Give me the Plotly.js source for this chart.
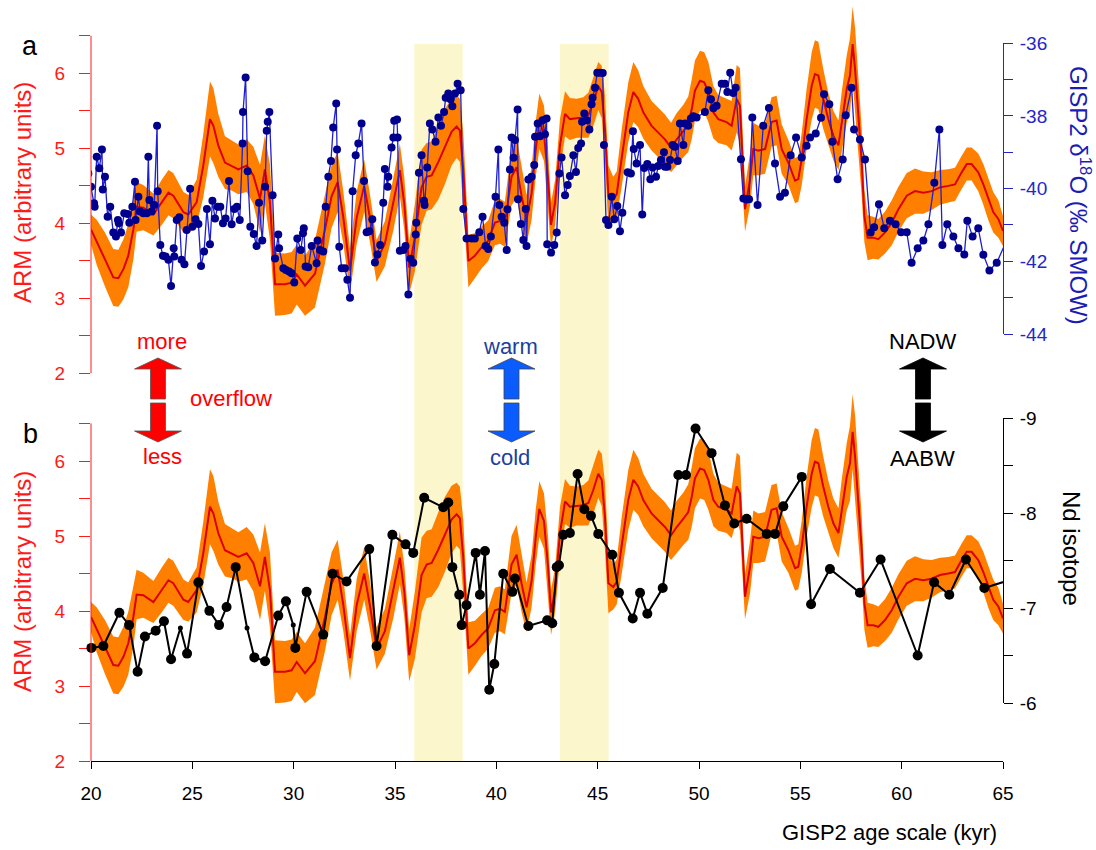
<!DOCTYPE html>
<html><head><meta charset="utf-8">
<script src="https://cdn.plot.ly/plotly-3.0.1.min.js"></script>
<style>html,body{margin:0;padding:0;background:#fff}#chart{width:1096px;height:850px}</style>
</head><body><div id="chart"></div>
<script>
// ---------------- DATA ----------------
const arm_age = [20.0,20.28,20.69,21.1,21.35,21.6,21.84,22.09,22.25,22.58,23.08,23.49,23.82,24.06,24.56,24.8,25.21,25.54,25.87,26.04,26.28,26.61,26.94,27.27,27.68,28.01,28.34,28.58,28.83,29.08,29.57,29.9,30.15,30.56,31.05,31.54,31.87,32.17,32.45,32.78,33.11,33.48,33.76,34.09,34.5,34.92,35.24,35.46,35.7,35.98,36.31,36.56,36.81,37.14,37.46,37.79,38.04,38.2,38.37,38.62,38.94,39.27,39.6,39.93,40.18,40.42,40.75,41.0,41.25,41.49,41.74,41.95,42.12,42.35,42.55,42.7,42.9,43.14,43.39,43.63,43.96,44.29,44.54,44.78,45.03,45.2,45.36,45.53,45.77,45.94,46.18,46.51,46.76,47.0,47.25,47.66,47.99,48.32,48.62,48.9,49.23,49.47,49.64,49.8,50.05,50.26,50.46,50.71,50.95,51.36,51.61,51.86,52.02,52.27,52.52,52.68,52.93,53.26,53.58,53.83,54.08,54.41,54.74,54.9,55.07,55.31,55.56,55.72,55.89,56.13,56.38,56.63,56.88,57.04,57.29,57.45,57.58,57.7,57.86,58.03,58.16,58.32,58.6,58.85,59.18,59.51,59.84,60.25,60.66,61.07,61.48,61.89,62.3,62.63,62.96,63.21,63.45,63.78,64.03,64.28,64.52,64.77,65.0];
const arm_val = [3.92,3.75,3.52,3.28,3.27,3.39,3.57,3.92,4.22,4.21,4.12,4.28,4.41,4.37,4.15,4.12,4.28,4.77,5.39,5.3,5.04,4.81,4.77,4.72,4.77,4.64,4.33,4.72,4.28,3.19,3.19,3.21,3.32,3.17,3.33,3.91,4.36,4.55,4.08,3.37,4.08,4.5,4.08,3.5,3.73,4.26,4.71,4.26,3.41,3.81,4.48,4.62,4.64,4.82,5.02,5.22,5.29,5.24,4.71,3.5,3.57,3.68,3.77,4.01,4.03,3.99,4.62,4.75,4.36,4.05,4.4,5.0,5.36,5.2,4.6,3.98,4.28,5.04,5.46,5.39,5.4,5.41,5.44,5.61,5.83,5.75,5.26,4.37,4.32,4.39,4.86,5.48,5.75,5.66,5.48,5.3,5.21,5.12,5.01,5.12,5.23,5.32,5.52,5.77,5.9,5.88,5.75,5.48,5.39,5.35,5.3,5.66,5.57,4.19,4.59,4.99,4.97,4.99,5.35,5.37,4.99,4.81,4.57,4.59,4.86,5.39,5.83,5.99,5.97,5.66,5.39,5.17,5.04,5.35,5.79,5.97,6.39,6.06,5.44,4.81,4.1,3.81,3.81,3.79,3.88,4.01,4.19,4.37,4.43,4.41,4.43,4.48,4.5,4.52,4.68,4.79,4.79,4.68,4.52,4.32,4.15,4.06,3.9];
const arm_err = [0.2,0.3,0.36,0.38,0.38,0.4,0.42,0.4,0.33,0.3,0.28,0.3,0.3,0.3,0.27,0.26,0.3,0.42,0.5,0.5,0.42,0.35,0.33,0.33,0.35,0.38,0.45,0.45,0.5,0.42,0.41,0.41,0.4,0.4,0.45,0.45,0.42,0.4,0.35,0.3,0.35,0.35,0.32,0.28,0.3,0.35,0.35,0.35,0.35,0.45,0.5,0.45,0.45,0.5,0.5,0.45,0.42,0.42,0.5,0.35,0.3,0.28,0.27,0.3,0.3,0.3,0.38,0.4,0.38,0.33,0.35,0.37,0.37,0.37,0.4,0.3,0.3,0.35,0.3,0.28,0.26,0.27,0.3,0.32,0.32,0.35,0.45,0.4,0.3,0.3,0.38,0.4,0.4,0.38,0.35,0.33,0.33,0.33,0.33,0.35,0.35,0.37,0.4,0.4,0.4,0.4,0.4,0.35,0.32,0.31,0.33,0.45,0.5,0.3,0.35,0.35,0.33,0.33,0.33,0.33,0.33,0.3,0.3,0.3,0.35,0.4,0.45,0.45,0.45,0.4,0.35,0.33,0.33,0.4,0.45,0.5,0.5,0.55,0.5,0.45,0.35,0.3,0.28,0.27,0.28,0.3,0.3,0.3,0.3,0.28,0.25,0.23,0.22,0.22,0.22,0.22,0.22,0.25,0.27,0.28,0.27,0.25,0.2];

const d18o_age = [19.87,20.0,20.15,20.18,20.28,20.41,20.54,20.58,20.69,20.82,20.95,21.1,21.23,21.33,21.37,21.48,21.64,21.81,21.89,22.04,22.17,22.2,22.34,22.42,22.58,22.75,22.83,22.88,22.99,23.12,23.26,23.29,23.42,23.55,23.68,23.82,23.95,24.08,24.11,24.23,24.36,24.47,24.61,24.72,24.89,25.0,25.16,25.3,25.43,25.58,25.72,25.87,25.99,26.12,26.25,26.38,26.51,26.64,26.81,26.94,27.07,27.2,27.34,27.48,27.5,27.63,27.73,27.86,28.03,28.17,28.29,28.45,28.59,28.67,28.72,28.8,28.96,29.08,29.24,29.28,29.49,29.62,29.77,29.9,30.03,30.18,30.35,30.46,30.5,30.59,30.72,30.89,
31.13,31.18,31.3,31.46,31.58,31.71,31.84,31.95,32.1,32.14,32.25,32.37,32.53,32.65,32.78,32.91,33.06,33.19,33.35,33.47,33.6,33.73,33.88,34.01,34.13,34.27,34.42,34.5,34.64,34.67,34.83,34.92,34.96,35.1,35.13,35.24,35.41,35.52,35.66,35.77,35.9,36.02,36.05,36.18,36.31,36.43,36.46,36.59,36.72,36.84,37.0,37.14,37.27,37.42,37.5,37.63,37.74,37.83,37.96,38.09,38.24,38.37,38.53,38.78,38.94,39.16,39.32,39.47,39.6,39.73,39.96,40.1,40.15,40.26,40.39,40.51,40.55,40.67,40.75,40.85,40.92,41.05,41.07,41.21,41.33,41.45,41.49,41.58,41.74,41.87,41.91,42.04,42.15,42.28,42.4,42.48,42.51,
42.7,42.86,42.98,43.11,43.22,43.39,43.52,43.63,43.8,43.93,44.04,44.18,44.23,44.34,44.46,44.59,44.7,44.75,44.87,44.98,45.11,45.25,45.31,45.41,45.53,45.69,45.82,45.97,46.1,46.22,46.48,46.64,46.74,46.78,46.92,47.09,47.2,47.3,47.45,47.6,47.71,47.88,47.99,48.12,48.27,48.32,48.44,48.57,48.7,48.81,48.95,49.06,49.23,49.31,49.47,49.6,49.72,49.88,50.29,50.46,50.59,50.71,50.87,51.12,51.28,51.4,51.54,51.69,51.81,52.07,52.19,52.35,52.47,52.63,52.89,53.17,53.45,
53.75,54.0,54.24,54.52,54.79,55.07,55.31,55.48,55.76,56.02,56.17,56.43,56.58,56.84,57.09,57.24,57.53,57.65,57.94,58.19,58.47,58.64,58.88,59.14,59.42,59.7,59.97,60.25,60.49,60.79,61.07,61.32,61.61,61.86,62.01,62.25,62.55,62.8,63.09,63.24,63.5,63.78,64.03,64.33,64.69,65.2];
const d18o_val = [-39.58,-39.95,-40.40,-40.50,-39.12,-39.44,-38.92,-40.02,-39.67,-40.77,-40.50,-41.21,-41.32,-40.86,-40.95,-41.21,-40.68,-40.70,-40.94,-40.50,-39.81,-40.86,-40.22,-40.63,-40.68,-40.68,-39.12,-40.31,-40.63,-40.45,-38.27,-40.07,-41.55,-41.85,-41.87,-41.96,-42.68,-41.64,-41.87,-40.86,-40.79,-41.96,-42.08,-41.14,-40.00,-41.05,-40.84,-40.97,-42.13,-41.73,-40.56,-41.53,-40.33,-40.82,-40.50,-40.50,-40.95,-40.82,-39.79,-40.98,-40.56,-40.50,-40.86,-38.76,-37.89,-36.94,-39.52,-41.05,-41.25,-41.58,-40.39,-41.43,-39.95,-38.41,-38.16,-37.89,-40.18,-41.92,-41.26,-41.64,-42.19,-42.24,-42.28,-42.33,-42.58,-41.37,-41.69,-41.23,-41.09,-42.14,-42.16,-41.58,
-42.05,-41.43,-41.69,-41.73,-40.50,-39.67,-39.24,-38.32,-37.66,-38.92,-41.60,-42.19,-42.19,-42.51,-43.00,-40.07,-39.08,-38.76,-38.21,-39.79,-41.20,-41.17,-40.84,-42.03,-41.81,-41.55,-40.39,-39.46,-39.95,-39.67,-38.87,-38.59,-38.13,-38.10,-38.59,-41.71,-41.69,-41.58,-42.91,-41.93,-42.04,-41.26,-40.94,-39.56,-39.08,-40.33,-40.45,-39.42,-38.21,-38.37,-38.71,-38.04,-38.27,-37.89,-37.50,-37.38,-37.54,-37.73,-37.38,-37.11,-37.29,-40.56,-41.37,-41.37,-41.37,-41.20,-40.77,-41.58,-41.66,-41.32,-40.22,-38.92,-40.45,-40.77,-40.94,-41.69,-40.57,-39.47,-38.59,-39.15,-38.66,-37.82,-40.29,-40.97,-41.41,-40.56,-41.58,-39.75,-39.67,-39.35,-38.57,-38.21,-38.56,-38.12,-38.50,-38.07,-41.53,
-41.76,-41.55,-41.21,-39.58,-39.14,-40.18,-39.90,-39.65,-39.08,-39.54,-38.88,-38.76,-38.16,-37.93,-38.12,-38.37,-37.68,-37.50,-37.22,-36.81,-36.81,-36.82,-38.80,-40.86,-41.00,-40.22,-40.84,-40.48,-41.17,-40.66,-39.55,-39.58,-38.42,-38.91,-39.31,-38.80,-40.71,-39.43,-39.32,-39.74,-39.42,-39.67,-39.38,-39.21,-39.00,-39.40,-39.40,-39.21,-38.80,-38.85,-39.24,-38.21,-38.80,-38.21,-38.27,-38.07,-38.01,-38.04,-37.89,-37.29,-37.54,-37.79,-37.72,-37.11,-37.11,-37.34,-36.81,-37.37,-37.22,-39.19,-40.27,-40.30,-40.29,-38.04,-40.45,-38.27,-37.78,
-39.31,-40.22,-40.11,-39.08,-38.59,-39.14,-38.82,-38.59,-38.48,-38.05,-37.40,-37.68,-38.71,-39.74,-39.20,-37.98,-37.22,-38.37,-38.65,-39.20,-41.21,-41.06,-40.43,-41.09,-40.88,-40.98,-41.20,-41.20,-42.04,-41.64,-41.43,-40.98,-39.84,-38.37,-41.55,-40.98,-41.32,-41.64,-41.81,-40.88,-41.32,-41.09,-41.82,-42.25,-42.04,-41.40];

const nd_age = [20.02,20.61,21.40,21.88,22.30,22.66,23.19,23.60,23.95,24.41,24.74,25.30,25.84,26.32,26.69,27.14,27.70,28.06,28.59,29.24,29.62,29.98,30.08,30.64,31.46,31.92,32.61,33.73,34.09,34.87,35.52,35.90,36.44,37.38,37.63,37.83,38.17,38.29,38.53,38.98,39.19,39.44,39.65,39.90,40.34,40.79,40.92,41.58,42.51,42.76,42.98,43.09,43.30,43.63,44.01,44.34,44.67,45.03,45.72,46.05,46.73,47.09,47.45,48.21,48.98,49.36,49.83,50.62,51.28,51.74,52.35,53.34,53.75,54.16,55.07,55.53,56.46,57.94,58.96,60.79,61.60,62.35,63.17,64.08,65.4];
const nd_val = [-6.58,-6.60,-6.95,-6.82,-6.33,-6.70,-6.76,-6.86,-6.46,-6.79,-6.52,-7.27,-6.97,-6.82,-7.01,-7.43,-6.79,-6.48,-6.44,-6.92,-7.07,-6.82,-6.58,-7.17,-6.72,-7.36,-7.28,-7.62,-6.60,-7.77,-7.67,-7.58,-8.16,-8.06,-8.11,-7.43,-7.14,-6.82,-7.03,-7.58,-7.14,-7.60,-6.14,-6.41,-7.36,-7.17,-7.31,-6.81,-6.87,-6.84,-7.43,-7.45,-7.77,-7.79,-8.41,-8.04,-7.97,-7.78,-7.56,-7.16,-6.89,-7.16,-6.94,-7.21,-8.40,-8.40,-8.89,-8.63,-8.08,-7.89,-7.94,-7.78,-7.78,-8.07,-8.38,-7.04,-7.41,-7.16,-7.51,-6.50,-7.27,-7.14,-7.51,-7.21,-7.30];
const nd_minor_idx = [9, 16, 21];   // samples drawn with the small symbol

const band_start = [35.95, 43.14];  // shaded intervals (kyr)
const band_end   = [38.34, 45.54];

const age_ticks   = [20,25,30,35,40,45,50,55,60,65];
const arm_ticks   = [2,3,4,5,6];
const arm_minor   = [2.5,3.5,4.5,5.5,6.5];
const d18o_ticks  = [-44,-42,-40,-38,-36];
const d18o_minor  = [-43,-41,-39,-37];
const nd_ticks    = [-9,-8,-7,-6];
const nd_minor    = [-8.5,-7.5,-6.5];

// ---------------- GEOMETRY ----------------
const W=1096, H=850, ML=91, MR=93, MT=0, MB=89;
const PW=W-ML-MR, PH=H-MT-MB;
const fx = px => (px-ML)/PW;
const fy = py => (H-MB-py)/PH;

const FONT = 'Liberation Sans, Arial, Helvetica, sans-serif';
const RED = '#ff1a1a', CURVE='#dc0000', ORANGE='#ff8000';
const BLUEAX = '#2626c8', NAVY='#00008c', BLUELN='#1e1ed2';

const armA_dom = [fy(373.5), 1];
const armA_rng = [2, 2 + 373.5/75.05];
const armB_dom = [0, fy(390)];
const armB_rng = [2, 2 + (761-390)/75];
const d18_dom = [fy(334), fy(43.3)];
const nd_dom  = [fy(703), fy(418)];

const upper = arm_val.map((v,i)=>v+arm_err[i]);
const lower = arm_val.map((v,i)=>v-arm_err[i]);
const polyX = arm_age.concat(arm_age.slice().reverse());
const polyY = upper.concat(lower.slice().reverse());

const bandTrace = ya => ({x: polyX, y: polyY, yaxis:ya, mode:'lines', fill:'toself', fillcolor:ORANGE,
  line:{width:0, color:ORANGE}, hoverinfo:'skip', showlegend:false});
const curveTrace = ya => ({x: arm_age, y: arm_val, yaxis:ya, mode:'lines', line:{color:CURVE, width:2}, showlegend:false});

const traces = [
  bandTrace('y'), curveTrace('y'),
  {x: d18o_age, y: d18o_val, yaxis:'y2', mode:'lines+markers', line:{color:BLUELN, width:1.3},
   marker:{color:NAVY, size:8, opacity:1, line:{width:0}}, showlegend:false},
  bandTrace('y3'), curveTrace('y3'),
  {x: nd_age, y: nd_val, yaxis:'y4', mode:'lines+markers', line:{color:'#000', width:2},
   marker:{color:'#000', opacity:1, line:{width:0}, size: nd_age.map((_,i)=> nd_minor_idx.includes(i) ? 5 : 10)},
   cliponaxis:false, showlegend:false}
];

const shapes = [];
band_start.forEach((s,i)=>shapes.push({type:'rect', xref:'x', yref:'paper', x0:s, x1:band_end[i], y0:0, y1:fy(44), fillcolor:'#fbf6cc', line:{width:0}, layer:'below'}));
shapes.push({type:'line', xref:'paper', yref:'y', x0:0, x1:0, y0:2, y1:6.5, line:{color:RED, width:1}});
shapes.push({type:'line', xref:'paper', yref:'y3', x0:0, x1:0, y0:2, y1:6.5, line:{color:RED, width:1}});

function arrow(cx, tip, base, end, hw, sw, fill, edge){
  const pts = [[cx,tip],[cx+hw,base],[cx+sw,base],[cx+sw,end],[cx-sw,end],[cx-sw,base],[cx-hw,base]];
  const path = 'M ' + pts.map(p=>fx(p[0]).toFixed(5)+','+fy(p[1]).toFixed(5)).join(' L ') + ' Z';
  return {type:'path', xref:'paper', yref:'paper', path, fillcolor:fill, line:{color:edge, width:0.8}};
}
[[158,'#ff0000','#555'],[511.5,'#0a5cff','#444'],[923,'#000','#000']].forEach(([cx,f,e])=>{
  shapes.push(arrow(cx, 358, 369, 399, 23.5, 7.5, f, e));
  shapes.push(arrow(cx, 442, 431, 403, 23.5, 7.5, f, e));
});

function ann(text, px, py, size, color, extra){
  return Object.assign({text, xref:'paper', yref:'paper', x:fx(px), y:fy(py), showarrow:false,
    xanchor:'center', yanchor:'middle', font:{family:FONT, size, color}}, extra||{});
}
const annotations = [
  ann('a', 30, 46, 27, '#000'),
  ann('b', 30, 434, 27, '#000'),
  ann('ARM (arbitrary units)', 22, 193, 24, RED, {textangle:-90}),
  ann('ARM (arbitrary units)', 22, 582, 24, RED, {textangle:-90}),
  ann('GISP2 δ<sup>18</sup>O (‰ SMOW)', 1080, 195, 24, '#1c1cb4', {textangle:90}),
  ann('Nd isotope', 1072, 548, 24, '#000', {textangle:90}),
  ann('GISP2 age scale (kyr)', 889, 832, 22, '#000'),
  ann('more', 162, 341, 22, '#ff0000'),
  ann('less', 162, 456, 22, '#ff0000'),
  ann('overflow', 188, 399, 22, '#ff0000', {xanchor:'left'}),
  ann('warm', 510, 346, 22, '#1c3f9e'),
  ann('cold', 510, 457, 22, '#1c3f9e'),
  ann('NADW', 922, 341, 22, '#000'),
  ann('AABW', 922, 459, 22, '#000')
];

const yBase = (dom, rng, side, color, vals, minorVals, tlen, standoff, line) => ({
  domain:dom, range:rng, anchor:'x', side, showline:line, linecolor:color, linewidth:1,
  ticks:'outside', ticklen:tlen, tickcolor:color, tickmode:'array', tickvals:vals, ticktext:vals.map(String),
  minor:{tickmode:'array', tickvals:minorVals, ticks:'outside', ticklen:tlen, tickcolor:color, showgrid:false},
  tickfont:{size:19, color, family:FONT}, ticklabelstandoff:standoff, showgrid:false, zeroline:false
});

const layout = {
  width:W, height:H, margin:{l:ML, r:MR, t:MT, b:MB, pad:0, autoexpand:false},
  paper_bgcolor:'#fff', plot_bgcolor:'rgba(0,0,0,0)', showlegend:false,
  font:{family:FONT},
  xaxis:{domain:[0,1], range:[20,65], anchor:'y3', showline:true, linecolor:'#000', linewidth:1,
    ticks:'outside', ticklen:7, tickcolor:'#000', tickmode:'array', tickvals:age_ticks, ticktext:age_ticks.map(String),
    tickfont:{size:19, color:'#000', family:FONT}, ticklabelstandoff:8, showgrid:false, zeroline:false},
  yaxis:  yBase(armA_dom, armA_rng, 'left', RED, arm_ticks, arm_minor, 11, 10, false),
  yaxis2: yBase(d18_dom, [-44,-36], 'right', BLUEAX, d18o_ticks, d18o_minor, 9, 3, true),
  yaxis3: yBase(armB_dom, armB_rng, 'left', RED, arm_ticks, arm_minor, 11, 10, false),
  yaxis4: yBase(nd_dom, [-6,-9], 'right', '#000', nd_ticks, nd_minor, 9, 3, true),
  shapes, annotations
};

Plotly.newPlot('chart', traces, layout, {displayModeBar:false, staticPlot:true});
</script>
</body></html>
